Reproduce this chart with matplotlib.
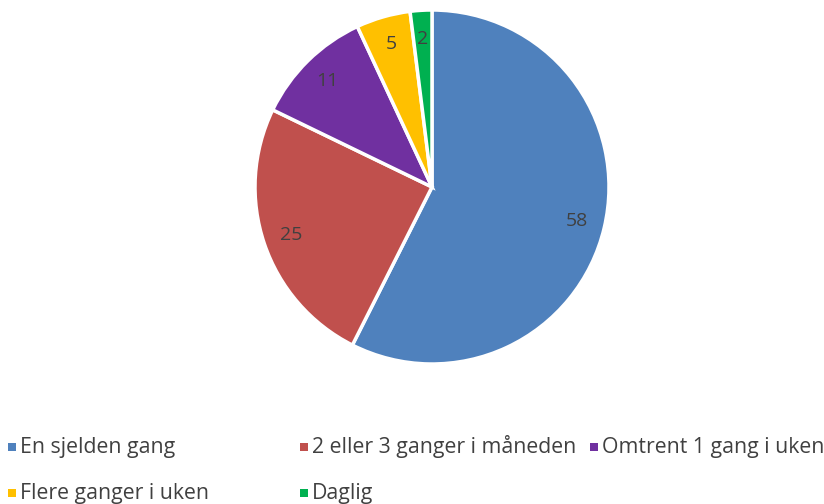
import matplotlib
matplotlib.use("Agg")
import matplotlib.pyplot as plt
from matplotlib.patches import Rectangle

categories = ["En sjelden gang", "2 eller 3 ganger i måneden", "Omtrent 1 gang i uken",
              "Flere ganger i uken", "Daglig"]
values = [58, 25, 11, 5, 2]
colors = ["#4F81BD", "#C0504D", "#7030A0", "#FFC000", "#00B050"]

plt.rcParams['font.family'] = ['Open Sans', 'DejaVu Sans']

W, H = 824, 504
fig = plt.figure(figsize=(W / 100, H / 100), dpi=100)

# pie axes placed in pixels: center (432,187), radius 177
cx, cy, r = 432, 187, 177
ax = fig.add_axes([(cx - r) / W, (H - cy - r) / H, 2 * r / W, 2 * r / H])
total = sum(values)
wedges, texts, autotexts = ax.pie(values, colors=colors, startangle=90, counterclock=False,
                                  wedgeprops=dict(edgecolor='white', linewidth=2.5),
                                  autopct=lambda p: str(round(p * total / 100)),
                                  pctdistance=0.84,
                                  textprops=dict(color='#404040', fontsize=14))
ax.set_xlim(-1, 1)
ax.set_ylim(-1, 1)
ax.set_aspect('equal')

# legend, placed like the original (two rows)
pos = [(8, 447), (300, 447), (590, 447), (8, 493), (300, 493)]
for (x, y), lab, col in zip(pos, categories, colors):
    fig.patches.append(Rectangle((x / W, (H - y - 4) / H), 8 / W, 8 / H,
                                 facecolor=col, transform=fig.transFigure))
    fig.text((x + 12) / W, (H - y) / H, lab, fontsize=15.3, color='#404040',
             va='center', ha='left')

fig.savefig("out.png", dpi=100)
